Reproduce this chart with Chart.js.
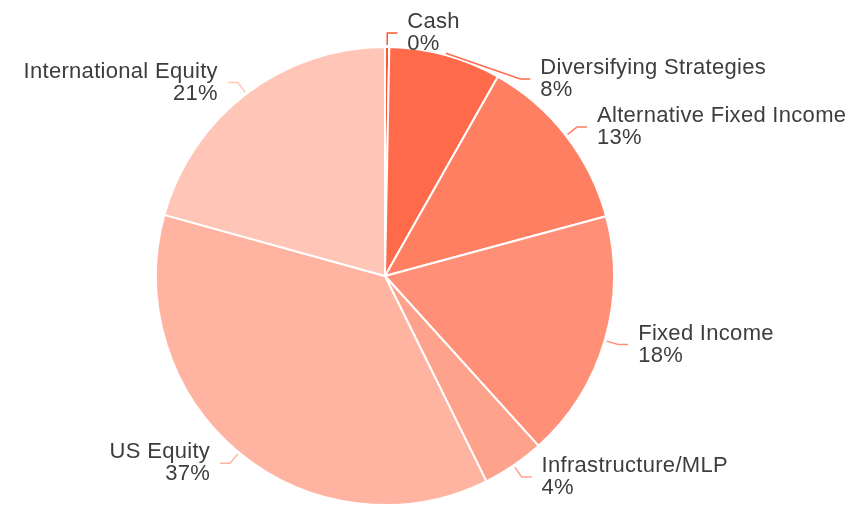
<!DOCTYPE html>
<html>
<head>
<meta charset="utf-8">
<script src="https://cdn.jsdelivr.net/npm/chart.js@4.4.1/dist/chart.umd.min.js"></script>
<style>
  body { margin: 0; background: #fff; }
  #wrap { width: 848px; height: 508px; position: relative; }
</style>
</head>
<body>
<div id="wrap"><canvas id="chartId"></canvas></div>
<script>
// allocation data, clockwise from the top
var categories = ['Cash', 'Diversifying Strategies', 'Alternative Fixed Income', 'Fixed Income', 'Infrastructure/MLP', 'US Equity', 'International Equity'];
var weights = [0.3, 7.9, 12.6, 17.5, 4.4, 36.6, 20.7];
var colours = ['#ff5733', '#ff6b4a', '#ff7f62', '#ff9077', '#ffa28c', '#ffb4a2', '#ffc6b8'];

// draws the name + percent labels with little elbow leader lines
var sideLabels = {
	id: 'sideLabels',
	afterDatasetsDraw: function (chart) {
		var ctx = chart.ctx;
		var arcs = chart.getDatasetMeta(0).data;
		var total = weights.reduce(function (a, b) { return a + b; }, 0);
		var right = [], left = [];

		arcs.forEach(function (arc, i) {
			var a = (arc.startAngle + arc.endAngle) / 2;
			var r = arc.outerRadius;
			var re = r + 14;
			var item = {
				i: i,
				cx: arc.x, cy: arc.y, r: r,
				sx: arc.x + Math.cos(a) * (r + 2),
				sy: arc.y + Math.sin(a) * (r + 2),
				ex: arc.x + Math.cos(a) * re,
				ey: arc.y + Math.sin(a) * re,
				right: Math.cos(a) >= 0
			};
			(item.right ? right : left).push(item);
		});

		// push right-hand labels down so they don't overlap
		var gap = 46;
		for (var k = 1; k < right.length; k++) {
			var prev = right[k - 1], cur = right[k];
			if (cur.ey < prev.ey + gap) {
				cur.ey = prev.ey + gap;
				var dy = cur.ey - cur.cy;
				var rr = cur.r + 10;
				if (Math.abs(dy) < rr) {
					cur.ex = cur.cx + Math.sqrt(rr * rr - dy * dy);
				}
			}
		}

		ctx.save();
		ctx.font = '22px "Liberation Sans", Arial, sans-serif';
		ctx.letterSpacing = '0.3px';
		ctx.textBaseline = 'middle';
		right.concat(left).forEach(function (it) {
			var dir = it.right ? 1 : -1;
			var hx = it.ex + dir * 10;
			ctx.strokeStyle = colours[it.i];
			ctx.lineWidth = 1.5;
			ctx.beginPath();
			ctx.moveTo(it.sx, it.sy);
			ctx.lineTo(it.ex, it.ey);
			ctx.lineTo(hx, it.ey);
			ctx.stroke();

			var tx = hx + dir * 10;
			ctx.fillStyle = '#3d3d3d';
			ctx.textAlign = it.right ? 'left' : 'right';
			ctx.fillText(categories[it.i], tx, it.ey - 11);
			ctx.fillText(Math.round(weights[it.i] / total * 100) + '%', tx, it.ey + 11);
		});
		ctx.restore();
	}
};

var chrt = document.getElementById('chartId').getContext('2d');
var chartId = new Chart(chrt, {
	type: 'pie',
	data: {
		labels: categories,
		datasets: [{
			data: weights,
			backgroundColor: colours,
			borderColor: '#ffffff',
			borderWidth: 2
		}]
	},
	options: {
		responsive: true,
		maintainAspectRatio: false,
		animation: false,
		layout: {
			padding: { left: 0, right: 78, top: 46, bottom: 2 }
		},
		plugins: {
			legend: { display: false },
			tooltip: { enabled: false }
		}
	},
	plugins: [sideLabels]
});
</script>
</body>
</html>
